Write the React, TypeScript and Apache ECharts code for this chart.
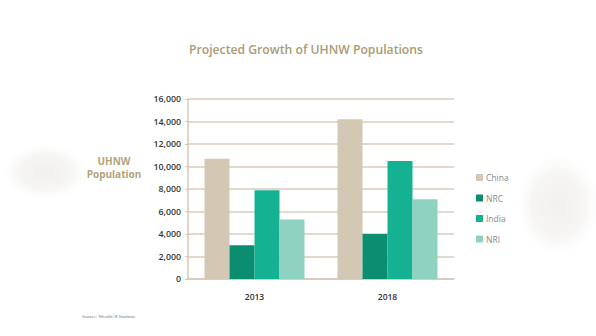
import React, { useEffect, useRef } from "react";
import * as echarts from "echarts";

const categories = ["2013", "2018"];
const seriesNames = ["China", "NRC", "India", "NRI"];
const chinaValues = [10700, 14200];
const nrcValues = [3000, 4000];
const indiaValues = [7900, 10500];
const nriValues = [5300, 7100];
const colors = ["#d3c8b3", "#0b8d70", "#14b193", "#90d2c2"];

function blob(cx: number, cy: number, rx: number, ry: number) {
  return {
    type: "ellipse",
    shape: { cx, cy, rx, ry },
    style: {
      fill: {
        type: "radial",
        x: 0.5,
        y: 0.5,
        r: 0.5,
        colorStops: [
          { offset: 0, color: "rgba(241,240,238,1)" },
          { offset: 0.6, color: "rgba(244,243,241,0.8)" },
          { offset: 1, color: "rgba(255,255,255,0)" },
        ],
      },
    },
    z: -10,
  };
}

export default function App() {
  const ref = useRef<HTMLDivElement>(null);
  useEffect(() => {
    const chart = echarts.init(ref.current!, null, { renderer: "svg" });
    const values = [chinaValues, nrcValues, indiaValues, nriValues];
    chart.setOption({
      animation: false,
      backgroundColor: "#ffffff",
      title: {
        text: "Projected Growth of UHNW Populations",
        left: 301,
        top: 38,
        textAlign: "center",
        textStyle: {
          fontFamily: "Open Sans",
          fontSize: 12.2,
          fontWeight: 600,
          color: "#a99b74",
        },
      },
      graphic: [
        blob(45, 172, 45, 30),
        blob(558, 205, 45, 55),
        {
          type: "text",
          x: 114,
          y: 167,
          style: {
            text: "UHNW\nPopulation",
            fill: "#b2a479",
            fontFamily: "Open Sans",
            fontWeight: 700,
            fontSize: 10,
            align: "center",
            verticalAlign: "middle",
            lineHeight: 13,
          },
        },
        {
          type: "text",
          x: 82,
          y: 316,
          style: {
            text: "Source: Wealth-X Institute",
            fill: "#777",
            fontFamily: "Liberation Serif",
            fontSize: 5,
            verticalAlign: "middle",
          },
        },
      ],
      legend: {
        orient: "vertical",
        left: 471,
        top: 168,
        icon: "rect",
        itemWidth: 7,
        itemHeight: 7,
        itemGap: 11.5,
        data: seriesNames,
        textStyle: {
          fontFamily: "Open Sans",
          fontSize: 8.5,
          color: "#8a8a8a",
          padding: [0, 0, 0, -2],
        },
      },
      grid: { left: 188, right: 142, top: 99, bottom: 57 },
      xAxis: {
        type: "category",
        data: categories,
        axisLine: { show: true, lineStyle: { color: "#d5c9b5", width: 1.5 } },
        axisTick: { show: false },
        axisLabel: {
          margin: 13,
          fontFamily: "Open Sans",
          fontWeight: 600,
          fontSize: 8.5,
          color: "#333",
        },
      },
      yAxis: {
        type: "value",
        min: 0,
        max: 16000,
        interval: 2000,
        axisLine: { show: true, lineStyle: { color: "#d5c9b5", width: 1.5 } },
        axisTick: { show: true, length: 3, lineStyle: { color: "#d5c9b5" } },
        splitLine: { lineStyle: { color: "#d8cdb9", width: 1.5 } },
        axisLabel: {
          margin: 7,
          fontFamily: "Open Sans",
          fontWeight: 600,
          fontSize: 8.8,
          color: "#333",
          formatter: (v: number) => v.toLocaleString("en-US"),
        },
      },
      series: seriesNames.map((name, i) => ({
        name,
        type: "bar",
        data: values[i],
        barWidth: 25,
        barGap: "0%",
        itemStyle: { color: colors[i] },
      })),
    });
    return () => chart.dispose();
  }, []);
  return <div ref={ref} style={{ width: 596, height: 336, position: "absolute", left: 0, top: 0 }} />;
}
